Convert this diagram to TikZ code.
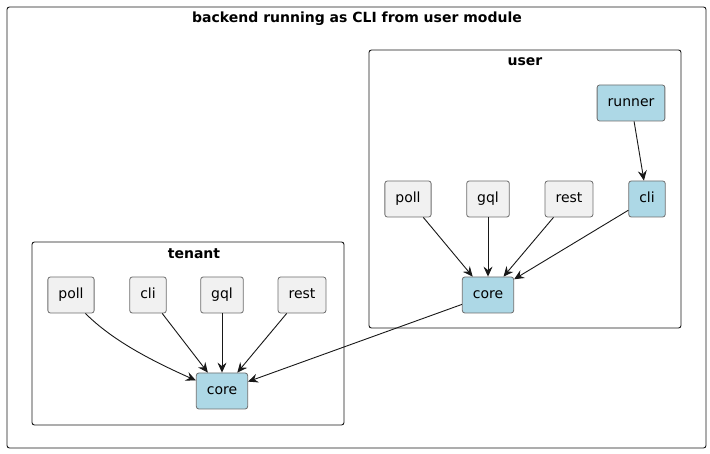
\documentclass[tikz,border=0pt]{standalone}
\usepackage{fontspec}
\setmainfont{DejaVu Sans}
\usetikzlibrary{arrows.meta}
\definecolor{blu}{HTML}{ADD8E6}
\definecolor{gry}{HTML}{F1F1F1}
\definecolor{bord}{HTML}{6E6E6E}
\definecolor{ink}{HTML}{181818}
\begin{document}
\begin{tikzpicture}[x=1pt,y=-1pt,
  comp/.style={draw=bord, line width=0.8pt, rounded corners=2.5pt, minimum height=36pt,
    inner xsep=10.5pt, inner ysep=0pt, text height=10pt, text depth=3pt,
    font=\fontsize{14}{16}\selectfont, text=black},
  gcomp/.style={comp, fill=gry},
  bcomp/.style={comp, fill=blu},
  pkg/.style={draw=ink, line width=0.9pt, rounded corners=2.5pt},
  ptitle/.style={font=\fontsize{14}{16}\selectfont\bfseries, text=black, inner sep=0pt},
  arr/.style={draw=ink, line width=0.9pt, -{Stealth[length=10pt,width=9pt,inset=3.5pt]}}
]
\useasboundingbox (0,0) rectangle (710,454);
\fill[white] (0,0) rectangle (710,454);
% frames
\draw[pkg] (7,7) rectangle (706,448);
\node[ptitle] (maintitle) at (357,18.5) {backend running as CLI from user module};
\draw[pkg] (369,50) rectangle (681,328);
\node[ptitle] (usertitle) at (525,61.5) {user};
\draw[pkg] (32,242) rectangle (344,425);
\node[ptitle] (tenanttitle) at (194,253.5) {tenant};
% user nodes
\node[bcomp] (urunner) at (631,103) {runner};
\node[gcomp] (upoll) at (408,199) {poll};
\node[gcomp] (ugql) at (488,199) {gql};
\node[gcomp] (urest) at (569,199) {rest};
\node[bcomp] (ucli) at (647,199) {cli};
\node[bcomp] (ucore) at (488,295) {core};
% tenant nodes
\node[gcomp] (tpoll) at (71,295) {poll};
\node[gcomp] (tcli) at (148,295) {cli};
\node[gcomp] (tgql) at (222,295) {gql};
\node[gcomp] (trest) at (302,295) {rest};
\node[bcomp] (tcore) at (222,391) {core};
% edges
\draw[arr] (urunner) -- (ucli);
\draw[arr] (upoll) -- (ucore);
\draw[arr] (ugql) -- (ucore);
\draw[arr] (urest) -- (ucore);
\draw[arr] (ucli) -- (ucore);
\draw[arr] (ucore) -- (tcore);
\draw[arr] (tpoll.-52) .. controls (112,340) and (150,360) .. (tcore.158);
\draw[arr] (tcli) -- (tcore);
\draw[arr] (tgql) -- (tcore);
\draw[arr] (trest) -- (tcore);
\end{tikzpicture}
\end{document}
